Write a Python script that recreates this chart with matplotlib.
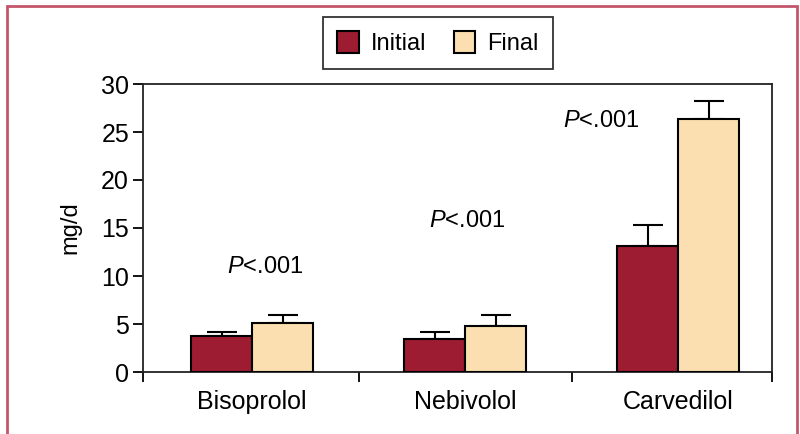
import matplotlib
matplotlib.use("Agg")
import matplotlib.pyplot as plt
import matplotlib.patches as patches
import numpy as np

# Dosis de betabloqueantes: inicial vs final
farmacos = ["Bisoprolol", "Nebivolol", "Carvedilol"]
inicial = [3.78, 3.4, 13.1]
final = [5.14, 4.83, 26.35]
err_inicial = [0.35, 0.73, 2.2]
err_final = [0.8, 1.11, 1.91]
texto_p = ["P<.001", "P<.001", "P<.001"]
pos_p = [(0.06, 10.9), (1.01, 15.7), (1.64, 26.1)]

plt.rcParams['font.family'] = ["Liberation Sans", "DejaVu Sans"]
plt.rcParams['mathtext.fontset'] = 'custom'
plt.rcParams['mathtext.rm'] = 'Liberation Sans'
plt.rcParams['mathtext.it'] = 'Liberation Sans:italic'

color_ini = "#9d1c31"
color_fin = "#fbdfb0"

fig = plt.figure(figsize=(8, 4.34), dpi=100)
ax = fig.add_axes([143 / 800, 1 - 372 / 434, 629 / 800, 288 / 434])

x = np.arange(len(farmacos))
ancho = 0.286

ax.bar(x - ancho / 2, inicial, ancho, color=color_ini, edgecolor="black",
       linewidth=1.5, label="Initial", zorder=3)
ax.bar(x + ancho / 2, final, ancho, color=color_fin, edgecolor="black",
       linewidth=1.5, label="Final", zorder=3)

# Barras de error solo hacia arriba
ax.errorbar(x - ancho / 2, inicial, yerr=[np.zeros(3), err_inicial], fmt="none",
            ecolor="black", elinewidth=1.5, capsize=11, capthick=1.5, zorder=2)
ax.errorbar(x + ancho / 2, final, yerr=[np.zeros(3), err_final], fmt="none",
            ecolor="black", elinewidth=1.5, capsize=11, capthick=1.5, zorder=2)

for t, (px, py) in zip(texto_p, pos_p):
    ax.text(px, py, r"$\it{P}$" + t[1:], ha="center", va="center", fontsize=17)

ax.set_xlim(-0.512, 2.441)
ax.set_ylim(0, 30)
ax.set_yticks(range(0, 31, 5))
ax.set_xticks(x)
ax.set_xticklabels(farmacos, fontsize=18)
ax.tick_params(axis="x", length=0, pad=13)
ax.set_xticks([-0.512, 0.5, 1.5, 2.441], minor=True)
ax.tick_params(axis="x", which="minor", length=7, width=1.3, direction="out")
ax.tick_params(axis="y", length=7, width=1.3, labelsize=18, pad=3)
for s in ax.spines.values():
    s.set_linewidth(1.3)
    s.set_color("#222222")
ax.set_ylabel("mg/d", fontsize=17, labelpad=14)

fig.legend(loc="center", bbox_to_anchor=(438 / 800, 1 - 43 / 434), ncol=2,
           fontsize=17, frameon=True, fancybox=False, edgecolor="black",
           handlelength=0.9, handleheight=1.1, handletextpad=0.5,
           columnspacing=1.2, borderpad=0.6).get_frame().set_linewidth(1.3)

# Marco rosado alrededor de la figura
fig.add_artist(patches.Rectangle((7 / 800, -0.1), 790 / 800, 1.1 - 6 / 434,
                                 transform=fig.transFigure, fill=False,
                                 edgecolor="#c4566b", linewidth=2))

fig.savefig("out.png", dpi=100)
